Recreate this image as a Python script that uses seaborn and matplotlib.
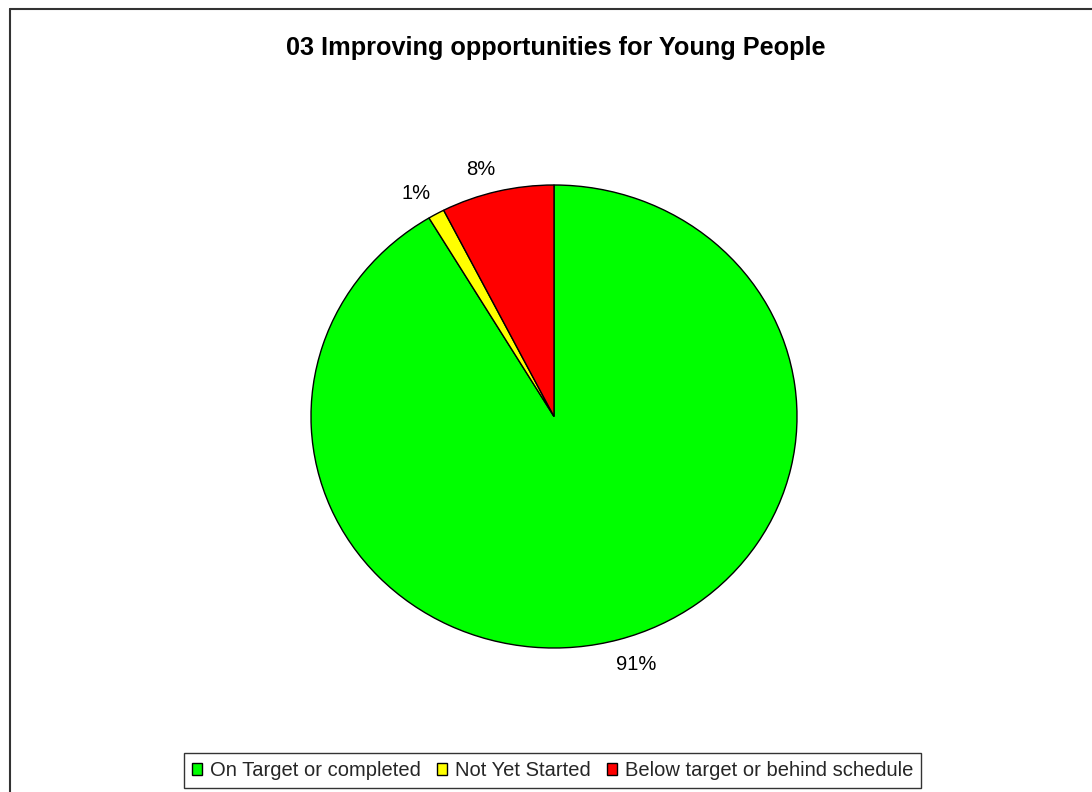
import matplotlib
matplotlib.use("Agg")
import matplotlib.pyplot as plt
import seaborn as sns
from matplotlib.patches import Patch
from matplotlib.lines import Line2D

sns.set_theme(style="white")
plt.rcParams['font.family'] = ['Liberation Sans', 'DejaVu Sans']

title = "03 Improving opportunities for Young People"
categories = ["On Target or completed", "Not Yet Started", "Below target or behind schedule"]
values = [91.4, 1.1, 7.5]
colors = ["#00FF00", "#FFFF00", "#FF0000"]

W, H = 1092, 792
fig = plt.figure(figsize=(W / 100, H / 100), dpi=100)
fig.patch.set_facecolor("white")

cx, cy, rx, ry = 554, 416.5, 243, 231.5
ax = fig.add_axes([(cx - rx) / W, (H - cy - ry) / H, 2 * rx / W, 2 * ry / H])
wedges, texts, autotexts = ax.pie(
    values, colors=colors, startangle=90, counterclock=False,
    autopct="%.0f%%", pctdistance=1.07, radius=1,
    wedgeprops=dict(edgecolor="black", linewidth=1.0),
    textprops=dict(fontsize=14.5, color="black"),
)
for t in autotexts:
    x, y = t.get_position()
    t.set_ha("left" if x > 0 else "right")
    t.set_va("bottom" if y > 0 else "top")
    if x > 0:
        t.set_x(x - 0.03)
    else:
        t.set_x(x + 0.01)
        t.set_y(y - 0.015)
ax.set_xlim(-1, 1)
ax.set_ylim(-1, 1)
ax.set_aspect("auto")
ax.axis("off")

fig.text(0.5 * (286 + 826) / W, 1 - 48 / H, title, ha="center", va="center",
         fontsize=18.2, fontweight="bold", color="black")

handles = [Patch(facecolor=c, edgecolor="black", linewidth=1.0) for c in colors]
leg = fig.legend(handles, categories, loc="center", bbox_to_anchor=(552.5 / W, 1 - 770.5 / H),
                 ncol=3, frameon=True, fancybox=False, fontsize=14.5,
                 handlelength=0.5, handleheight=0.5, handletextpad=0.4,
                 columnspacing=0.8, borderpad=0.4, borderaxespad=0)
leg.get_frame().set_edgecolor("black")
leg.get_frame().set_linewidth(1.0)

# chart area border (left and top edges visible)
fig.add_artist(Line2D([9.5 / W, 9.5 / W], [0, 1 - 8.5 / H], transform=fig.transFigure,
                      color="#333333", linewidth=1.5))
fig.add_artist(Line2D([9.5 / W, 1], [1 - 8.5 / H, 1 - 8.5 / H], transform=fig.transFigure,
                      color="#333333", linewidth=1.5))

fig.savefig("out.png", dpi=100, facecolor="white")
